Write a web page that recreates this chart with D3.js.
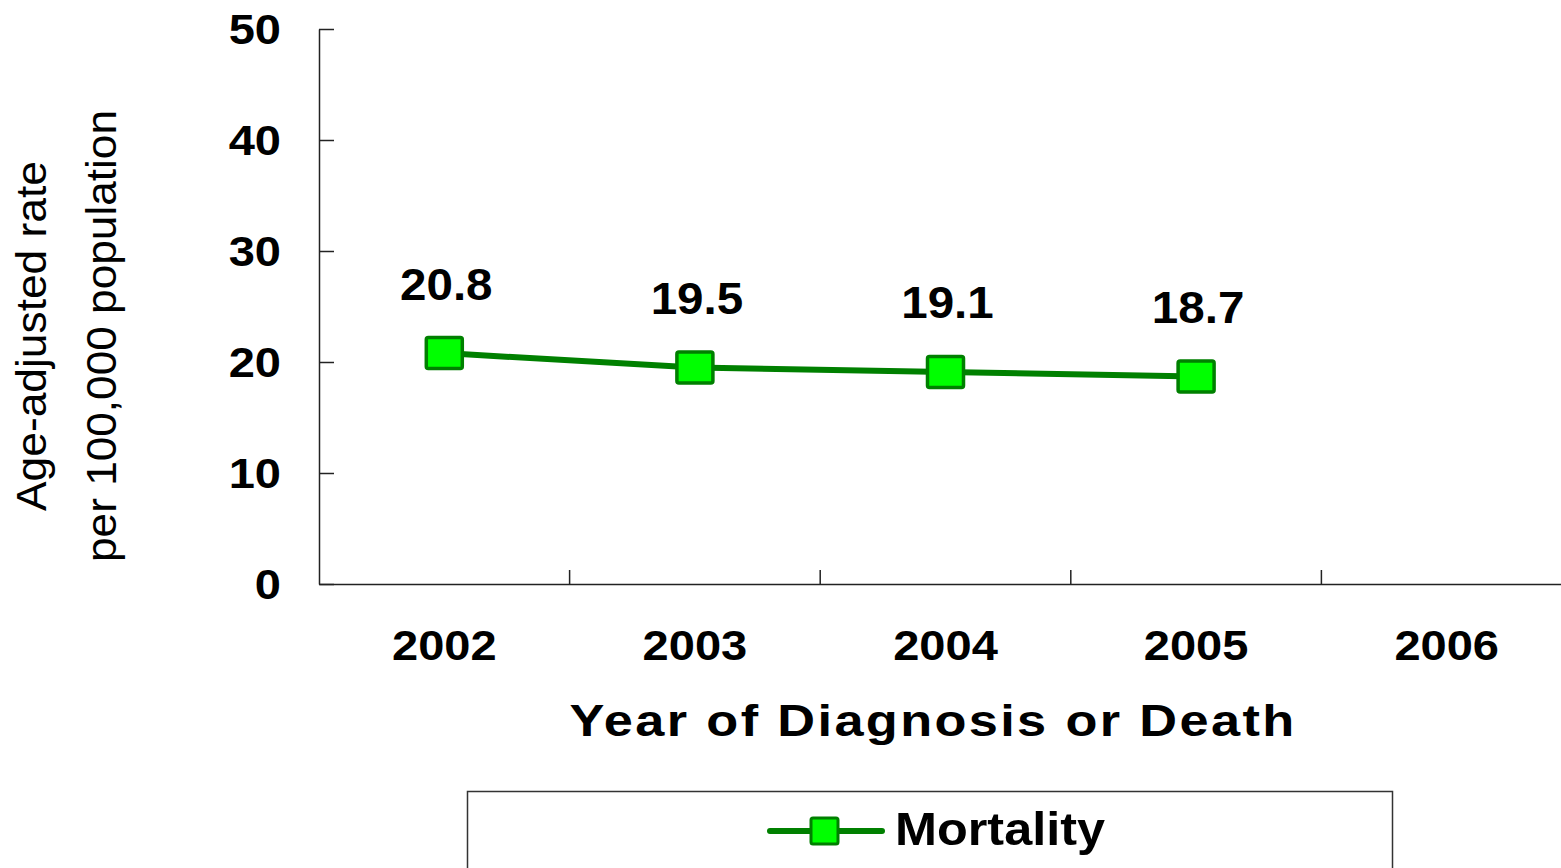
<!DOCTYPE html>
<html>
<head>
<meta charset="utf-8">
<script src="https://cdn.jsdelivr.net/npm/d3@7"></script>
<style>
  body { margin: 0; background: #fff; }
  svg { display: block; font-family: "Liberation Sans", Arial, sans-serif; }
</style>
</head>
<body>
<svg id="chart"></svg>
<script>
const years = ["2002", "2003", "2004", "2005", "2006"];
const mortality = [20.8, 19.5, 19.1, 18.7];
const yTicks = [0, 10, 20, 30, 40, 50];

const width = 1561;
const height = 868;

const svg = d3.select("#chart").attr("width", width).attr("height", height);

const x = d3.scaleBand().domain(years).range([319, 1572]).padding(0);
const y = d3.scaleLinear().domain([0, 50]).range([584, 29]);

const data = mortality.map((v, i) => ({ year: years[i], value: v }));
const cx = (d) => x(d.year) + x.bandwidth() / 2;

// the original font is a bit wider than Arial, stretch glyphs a little
const stretch = (sel, factor) => {
  sel.each(function () {
    const w = this.getComputedTextLength();
    d3.select(this)
      .attr("textLength", w * factor)
      .attr("lengthAdjust", "spacingAndGlyphs");
  });
};

// y axis
const yAxis = svg
  .append("g")
  .attr("transform", "translate(319,0)")
  .call(d3.axisLeft(y).tickValues(yTicks).tickSize(-15).tickPadding(38).tickSizeOuter(0));
yAxis.select(".domain").attr("stroke", "#222").attr("stroke-width", 1.5);
yAxis.selectAll(".tick line").attr("stroke", "#222").attr("stroke-width", 1.5);
yAxis
  .selectAll(".tick text")
  .attr("font-size", 42)
  .attr("font-weight", "bold")
  .attr("fill", "#000")
  .attr("dy", "0.35em")
  .call(stretch, 1.12);

// x axis
const xAxis = svg
  .append("g")
  .attr("transform", "translate(0,584)")
  .call(d3.axisBottom(x).tickSize(0).tickSizeOuter(0));
xAxis.select(".domain").attr("stroke", "#222").attr("stroke-width", 1.5);
xAxis
  .selectAll(".tick text")
  .attr("font-size", 42)
  .attr("font-weight", "bold")
  .attr("fill", "#000")
  .attr("y", 76)
  .attr("dy", 0)
  .call(stretch, 1.12);

// category boundary ticks
svg
  .append("g")
  .selectAll("line")
  .data(years.slice(1))
  .join("line")
  .attr("x1", (d) => x(d))
  .attr("x2", (d) => x(d))
  .attr("y1", 570)
  .attr("y2", 584)
  .attr("stroke", "#222")
  .attr("stroke-width", 1.5);

// axis titles
svg
  .append("text")
  .attr("x", 933)
  .attr("y", 736)
  .attr("text-anchor", "middle")
  .attr("font-size", 44)
  .attr("font-weight", "bold")
  .attr("letter-spacing", 2)
  .attr("textLength", 727)
  .attr("lengthAdjust", "spacingAndGlyphs")
  .text("Year of Diagnosis or Death");

const yTitle = svg
  .append("g")
  .attr("transform", "translate(0,336) rotate(-90)");
yTitle
  .append("text")
  .attr("x", 0)
  .attr("y", 46)
  .attr("text-anchor", "middle")
  .attr("font-size", 42)
  .attr("textLength", 350)
  .attr("lengthAdjust", "spacingAndGlyphs")
  .text("Age-adjusted rate");
yTitle
  .append("text")
  .attr("x", 0)
  .attr("y", 116)
  .attr("text-anchor", "middle")
  .attr("font-size", 42)
  .attr("textLength", 452)
  .attr("lengthAdjust", "spacingAndGlyphs")
  .text("per 100,000 population");

// series line
const line = d3
  .line()
  .x(cx)
  .y((d) => y(d.value));

svg
  .append("path")
  .datum(data)
  .attr("d", line)
  .attr("fill", "none")
  .attr("stroke", "#008000")
  .attr("stroke-width", 6);

svg
  .append("g")
  .selectAll("rect")
  .data(data)
  .join("rect")
  .attr("x", (d) => cx(d) - 18)
  .attr("y", (d) => y(d.value) - 15.5)
  .attr("width", 36)
  .attr("height", 31)
  .attr("rx", 2)
  .attr("fill", "#00ff00")
  .attr("stroke", "#008000")
  .attr("stroke-width", 3.5);

svg
  .append("g")
  .selectAll("text")
  .data(data)
  .join("text")
  .attr("x", (d) => cx(d) + 2)
  .attr("y", (d) => y(d.value) - 69)
  .attr("dy", "0.35em")
  .attr("text-anchor", "middle")
  .attr("font-size", 44)
  .attr("font-weight", "bold")
  .text((d) => d.value.toFixed(1))
  .call(stretch, 1.08);

// legend
const legend = svg.append("g");
legend
  .append("rect")
  .attr("x", 467.5)
  .attr("y", 791.5)
  .attr("width", 925)
  .attr("height", 100)
  .attr("fill", "#fff")
  .attr("stroke", "#333")
  .attr("stroke-width", 1.5);
legend
  .append("line")
  .attr("x1", 770)
  .attr("x2", 882)
  .attr("y1", 831)
  .attr("y2", 831)
  .attr("stroke", "#008000")
  .attr("stroke-width", 6)
  .attr("stroke-linecap", "round");
legend
  .append("rect")
  .attr("x", 811)
  .attr("y", 818)
  .attr("width", 27)
  .attr("height", 26)
  .attr("rx", 2)
  .attr("fill", "#00ff00")
  .attr("stroke", "#008000")
  .attr("stroke-width", 3);
legend
  .append("text")
  .attr("x", 895)
  .attr("y", 845)
  .attr("font-size", 46)
  .attr("font-weight", "bold")
  .attr("textLength", 210)
  .attr("lengthAdjust", "spacingAndGlyphs")
  .text("Mortality");
</script>
</body>
</html>
